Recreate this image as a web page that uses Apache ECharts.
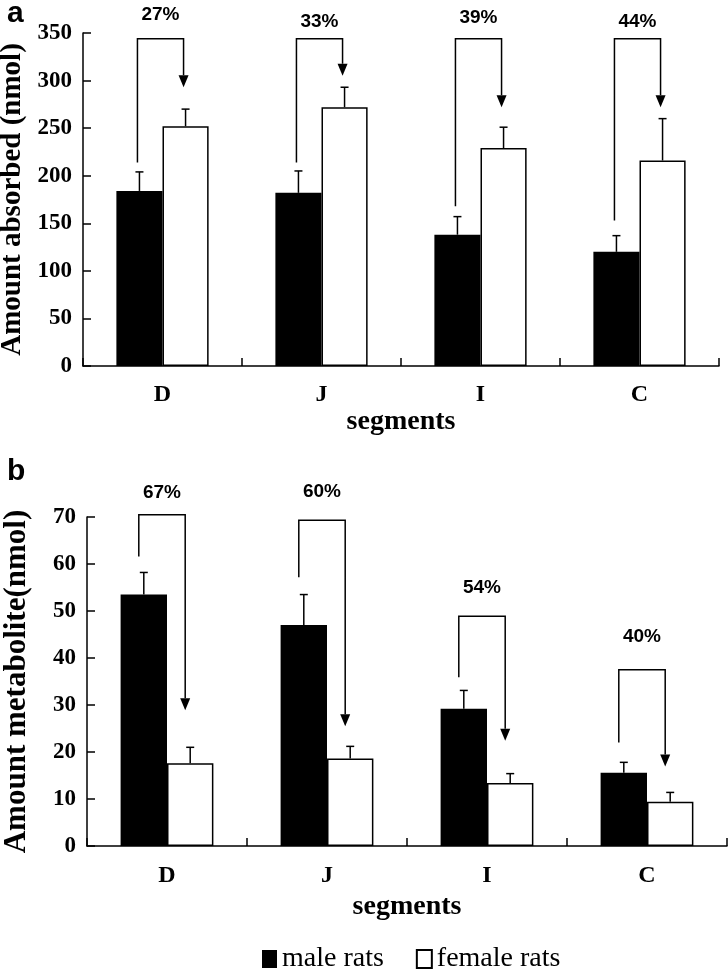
<!DOCTYPE html>
<html>
<head>
<meta charset="utf-8">
<script src="https://cdn.jsdelivr.net/npm/echarts@6/dist/echarts.min.js"></script>
<style>
  html, body { margin: 0; padding: 0; background: #fff; }
  #chart { width: 728px; height: 969px; }
</style>
</head>
<body>
<div id="chart"></div>
<script>
// categories
const segments = ['D', 'J', 'I', 'C'];

// panel a: amount absorbed (nmol)
const absMale = [184, 182, 138, 120];
const absMaleErr = [20, 23, 19, 17];
const absFemale = [252, 272, 229, 216];
const absFemaleErr = [18, 21, 22, 44];
const absPct = ['27%', '33%', '39%', '44%'];
const absBracketFrom = [214, 214, 168, 153];
const absBracketTop = [344, 344, 344, 344];
const absBracketTo = [293, 305, 272, 272];
const absPctAt = [369, 362, 366, 362];

// panel b: amount metabolite (nmol)
const metMale = [53.5, 47, 29.2, 15.6];
const metMaleErr = [4.7, 6.5, 3.9, 2.2];
const metFemale = [17.6, 18.6, 13.4, 9.4];
const metFemaleErr = [3.4, 2.6, 2.0, 2.0];
const metPct = ['67%', '60%', '54%', '40%'];
const metBracketFrom = [61.6, 57.2, 35.9, 22];
const metBracketTop = [70.5, 69.3, 48.9, 37.5];
const metBracketTo = [28.9, 25.5, 22.4, 16.9];
const metPctAt = [75.2, 75.4, 55, 44.6];

const serif = '"Liberation Serif", "Times New Roman", serif';
const sans = '"Liberation Sans", Arial, sans-serif';
const gapRatio = 0.42;

// center x of male (-1) or female (+1) bar in a category
function barCenter(api, cx, side) {
    let band = api.size([1, 0])[0];
    let bw = band * (1 - gapRatio) / 2;
    return cx + side * bw / 2;
}

function errorSeries(idx, values, errs, side) {
    return {
        type: 'custom',
        xAxisIndex: idx,
        yAxisIndex: idx,
        z: 5,
        silent: true,
        data: segments.map((s, i) => [i, values[i], values[i] + errs[i]]),
        renderItem: function (params, api) {
            let base = api.coord([api.value(0), api.value(1)]);
            let top = api.coord([api.value(0), api.value(2)]);
            let x = barCenter(api, base[0], side);
            let st = { stroke: '#000', lineWidth: 1.5 };
            return {
                type: 'group',
                children: [
                    { type: 'line', shape: { x1: x, y1: base[1], x2: x, y2: top[1] }, style: st },
                    { type: 'line', shape: { x1: x - 4, y1: top[1], x2: x + 4, y2: top[1] }, style: st }
                ]
            };
        }
    };
}

function bracketSeries(idx, from, top, to, pct, pctAt, shift) {
    return {
        type: 'custom',
        xAxisIndex: idx,
        yAxisIndex: idx,
        z: 6,
        silent: true,
        data: segments.map((s, i) => [i, from[i], top[i], to[i], pctAt[i]]),
        renderItem: function (params, api) {
            let i = api.value(0);
            let pFrom = api.coord([i, api.value(1)]);
            let pTop = api.coord([i, api.value(2)]);
            let pTo = api.coord([i, api.value(3)]);
            let pLab = api.coord([i, api.value(4)]);
            let xl = barCenter(api, pFrom[0], -1) + shift;
            let xr = barCenter(api, pFrom[0], 1) + shift;
            let ah = 12, aw = 5;
            return {
                type: 'group',
                children: [
                    {
                        type: 'polyline',
                        shape: { points: [[xl, pFrom[1]], [xl, pTop[1]], [xr, pTop[1]], [xr, pTo[1] - ah]] },
                        style: { stroke: '#000', lineWidth: 1.5, fill: null }
                    },
                    {
                        type: 'polygon',
                        shape: { points: [[xr - aw, pTo[1] - ah], [xr + aw, pTo[1] - ah], [xr, pTo[1]]] },
                        style: { fill: '#000' }
                    },
                    {
                        type: 'text',
                        x: (xl + xr) / 2,
                        y: pLab[1],
                        style: {
                            text: pct[params.dataIndex],
                            fill: '#000',
                            font: 'bold 19px ' + sans,
                            align: 'center',
                            verticalAlign: 'middle'
                        }
                    }
                ]
            };
        }
    };
}

function xAxisFor(idx, gap, labelMargin) {
    return {
        type: 'category',
        gridIndex: idx,
        data: segments,
        axisLine: { lineStyle: { color: '#000', width: 1.5 } },
        axisTick: { show: true, inside: true, length: 8, interval: 0, lineStyle: { color: '#000', width: 1.5 } },
        axisLabel: { color: '#000', fontFamily: serif, fontWeight: 'bold', fontSize: 24, margin: labelMargin },
        name: 'segments',
        nameLocation: 'middle',
        nameGap: gap,
        nameTextStyle: { color: '#000', fontFamily: serif, fontWeight: 'bold', fontSize: 28 }
    };
}

function yAxisFor(idx, name, max, interval, nameSize, nameGap) {
    return {
        type: 'value',
        gridIndex: idx,
        min: 0,
        max: max,
        interval: interval,
        splitLine: { show: false },
        axisLine: { show: true, lineStyle: { color: '#000', width: 1.5 } },
        axisTick: { show: true, inside: true, length: 8, lineStyle: { color: '#000', width: 1.5 } },
        axisLabel: { color: '#000', fontFamily: serif, fontWeight: 'bold', fontSize: 23, margin: 11 },
        name: name,
        nameLocation: 'middle',
        nameGap: nameGap,
        nameTextStyle: { color: '#000', fontFamily: serif, fontWeight: 'bold', fontSize: nameSize }
    };
}

function barSeries(idx, name, values, female) {
    return {
        name: name,
        type: 'bar',
        xAxisIndex: idx,
        yAxisIndex: idx,
        barGap: 0,
        barCategoryGap: (gapRatio * 100) + '%',
        data: values,
        itemStyle: female
            ? { color: '#fff', borderColor: '#000', borderWidth: 1.5 }
            : { color: '#000', borderColor: '#000', borderWidth: 0 },
        emphasis: { disabled: true }
    };
}

let chart = echarts.init(document.getElementById('chart'), null, { renderer: 'canvas' });

chart.setOption({
    animation: false,
    backgroundColor: '#fff',
    title: [
        { text: 'a', left: 2, top: -6, textStyle: { fontFamily: sans, fontWeight: 'bold', fontSize: 30, color: '#000' } },
        { text: 'b', left: 2, top: 452, textStyle: { fontFamily: sans, fontWeight: 'bold', fontSize: 30, color: '#000' } }
    ],
    legend: {
        data: ['male rats', 'female rats'],
        left: 257,
        top: 940,
        icon: 'rect',
        itemWidth: 15,
        itemHeight: 18,
        itemGap: 32,
        selectedMode: false,
        textStyle: { color: '#000', fontFamily: serif, fontSize: 28 }
    },
    grid: [
        { left: 83, right: 9, top: 33, height: 333, outerBoundsMode: 'none' },
        { left: 87, right: 1, top: 517, height: 329, outerBoundsMode: 'none' }
    ],
    xAxis: [xAxisFor(0, 40, 17), xAxisFor(1, 47, 18)],
    yAxis: [
        yAxisFor(0, 'Amount absorbed (nmol)', 350, 50, 29, 56),
        yAxisFor(1, 'Amount metabolite(nmol)', 70, 10, 31, 55)
    ],
    series: [
        barSeries(0, 'male rats', absMale, false),
        barSeries(0, 'female rats', absFemale, true),
        barSeries(1, 'male rats', metMale, false),
        barSeries(1, 'female rats', metFemale, true),
        errorSeries(0, absMale, absMaleErr, -1),
        errorSeries(0, absFemale, absFemaleErr, 1),
        errorSeries(1, metMale, metMaleErr, -1),
        errorSeries(1, metFemale, metFemaleErr, 1),
        bracketSeries(0, absBracketFrom, absBracketTop, absBracketTo, absPct, absPctAt, -2),
        bracketSeries(1, metBracketFrom, metBracketTop, metBracketTo, metPct, metPctAt, -5)
    ]
});
</script>
</body>
</html>
